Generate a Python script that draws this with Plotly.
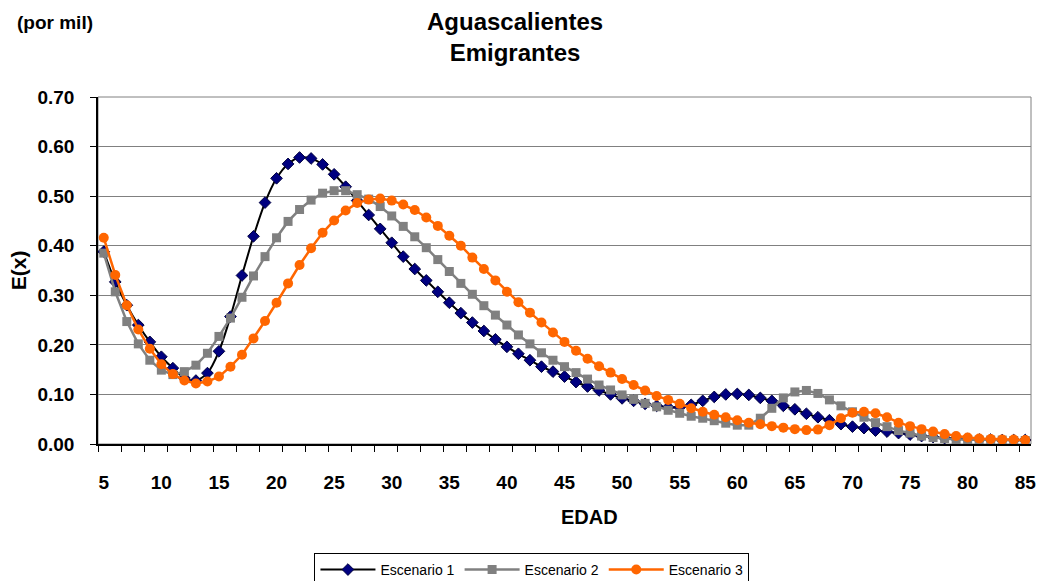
import plotly.graph_objects as go

ages = list(range(5, 86))

escenario1 = [0.388, 0.327, 0.280, 0.240, 0.206, 0.176, 0.153, 0.133, 0.128, 0.143,
              0.187, 0.257, 0.340, 0.419, 0.487, 0.536, 0.565, 0.578, 0.576, 0.564,
              0.544, 0.519, 0.491, 0.462, 0.434, 0.406, 0.378, 0.353, 0.330, 0.307,
              0.285, 0.264, 0.245, 0.228, 0.211, 0.196, 0.182, 0.169, 0.156, 0.146,
              0.136, 0.125, 0.116, 0.108, 0.100, 0.092, 0.087, 0.081, 0.077, 0.074,
              0.074, 0.079, 0.087, 0.095, 0.100, 0.101, 0.099, 0.093, 0.087, 0.077,
              0.070, 0.061, 0.054, 0.048, 0.040, 0.035, 0.032, 0.027, 0.025, 0.022,
              0.019, 0.016, 0.014, 0.012, 0.011, 0.010, 0.009, 0.009, 0.008, 0.008,
              0.008]

escenario2 = [0.385, 0.307, 0.247, 0.202, 0.169, 0.149, 0.140, 0.146, 0.159, 0.183,
              0.217, 0.254, 0.296, 0.339, 0.378, 0.416, 0.449, 0.473, 0.492, 0.506,
              0.511, 0.511, 0.503, 0.494, 0.479, 0.460, 0.439, 0.418, 0.396, 0.372,
              0.348, 0.324, 0.302, 0.279, 0.260, 0.240, 0.220, 0.202, 0.184, 0.169,
              0.156, 0.144, 0.131, 0.119, 0.109, 0.099, 0.090, 0.082, 0.075, 0.068,
              0.062, 0.056, 0.052, 0.047, 0.042, 0.038, 0.038, 0.052, 0.072, 0.093,
              0.105, 0.108, 0.102, 0.089, 0.077, 0.065, 0.054, 0.043, 0.035, 0.027,
              0.022, 0.016, 0.013, 0.011, 0.009, 0.009, 0.008, 0.008, 0.008, 0.007,
              0.007]

escenario3 = [0.416, 0.341, 0.280, 0.231, 0.192, 0.161, 0.141, 0.128, 0.122, 0.126,
              0.136, 0.156, 0.180, 0.213, 0.248, 0.285, 0.324, 0.361, 0.395, 0.426,
              0.451, 0.471, 0.486, 0.493, 0.495, 0.491, 0.483, 0.472, 0.457, 0.440,
              0.420, 0.400, 0.376, 0.353, 0.330, 0.307, 0.286, 0.265, 0.245, 0.225,
              0.206, 0.188, 0.172, 0.157, 0.144, 0.131, 0.119, 0.108, 0.097, 0.089,
              0.081, 0.072, 0.065, 0.059, 0.054, 0.048, 0.043, 0.040, 0.036, 0.033,
              0.030, 0.028, 0.029, 0.038, 0.052, 0.063, 0.065, 0.062, 0.054, 0.043,
              0.036, 0.030, 0.025, 0.020, 0.016, 0.013, 0.011, 0.010, 0.009, 0.009,
              0.008]

x_ticks = list(range(5, 90, 5))
y_ticks = [0.0, 0.1, 0.2, 0.3, 0.4, 0.5, 0.6, 0.7]

FONT = "Liberation Sans, Arial, sans-serif"

fig = go.Figure()
fig.add_trace(go.Scatter(
    x=ages, y=escenario1, name="Escenario 1", mode="lines+markers",
    line=dict(color="#000000", width=2, shape="spline", smoothing=0.8),
    marker=dict(symbol="diamond", size=9, color="#000080",
                line=dict(color="#000040", width=1))))
fig.add_trace(go.Scatter(
    x=ages, y=escenario2, name="Escenario 2", mode="lines+markers",
    line=dict(color="#808080", width=2.5),
    marker=dict(symbol="square", size=9, color="#808080")))
fig.add_trace(go.Scatter(
    x=ages, y=escenario3, name="Escenario 3", mode="lines+markers",
    line=dict(color="#FF6600", width=2.5),
    marker=dict(symbol="circle", size=10, color="#FF6600")))

fig.update_layout(
    width=1039, height=581,
    margin=dict(l=98, r=8, t=97, b=137, autoexpand=False),
    paper_bgcolor="white", plot_bgcolor="white",
    font=dict(family=FONT, color="black"),
    showlegend=True,
    legend=dict(orientation="h", x=0.232, xanchor="left", y=-0.314, yanchor="top",
                bordercolor="#000000", borderwidth=1,
                font=dict(family=FONT, size=14, color="black"),
                itemwidth=55, tracegroupgap=0),
    xaxis=dict(range=[4.5, 85.5], tickvals=x_ticks, ticktext=[str(v) for v in x_ticks],
               ticks="", showgrid=False, zeroline=False,
               showline=True, linecolor="black", linewidth=1.5,
               ticklabelstandoff=20,
               tickfont=dict(family=FONT, size=19, color="black", weight="bold"),
               minor=dict(tick0=4.5, dtick=2, ticks="outside", ticklen=6,
                          tickcolor="black", showgrid=False)),
    yaxis=dict(range=[0, 0.7], tickvals=y_ticks, ticktext=["%.2f" % v for v in y_ticks],
               ticks="outside", ticklen=6, tickcolor="black",
               ticklabelstandoff=12,
               showgrid=True, gridcolor="#808080", gridwidth=1, zeroline=False,
               showline=True, linecolor="black", linewidth=1.5,
               tickfont=dict(family=FONT, size=19, color="black", weight="bold")),
)

fig.add_shape(type="rect", xref="paper", yref="paper", x0=0, y0=0, x1=1, y1=1,
              line=dict(color="#808080", width=1), layer="below")

fig.add_annotation(text="<b>Aguascalientes</b><br><b>Emigrantes</b>", xref="paper", yref="paper",
                   x=0.447, y=1.173, xanchor="center", yanchor="middle", showarrow=False,
                   font=dict(family=FONT, size=24, color="black"))
fig.add_annotation(text="<b>(por mil)</b>", xref="paper", yref="paper",
                   x=-0.046, y=1.216, xanchor="center", yanchor="middle", showarrow=False,
                   font=dict(family=FONT, size=19, color="black"))
fig.add_annotation(text="<b>E(x)</b>", xref="paper", yref="paper",
                   x=-0.085, y=0.5, xanchor="center", yanchor="middle", showarrow=False,
                   textangle=-90, font=dict(family=FONT, size=21, color="black"))
fig.add_annotation(text="<b>EDAD</b>", xref="paper", yref="paper",
                   x=0.527, y=-0.21, xanchor="center", yanchor="middle", showarrow=False,
                   font=dict(family=FONT, size=20, color="black"))

fig.write_html("out.html")
